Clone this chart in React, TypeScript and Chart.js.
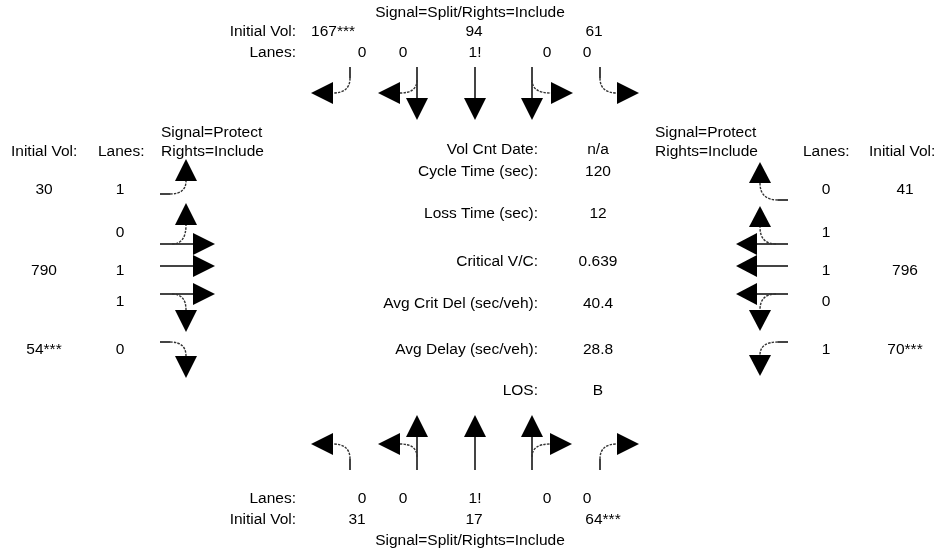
import React, { useEffect, useRef } from "react";
import { Chart, registerables } from "chart.js";

Chart.register(...registerables);

// ---- data ----
const SB_VOL = ["167***", "94", "61"];
const SB_LANES = ["0", "0", "1!", "0", "0"];
const NB_VOL = ["31", "17", "64***"];
const NB_LANES = ["0", "0", "1!", "0", "0"];
const EB_VOL = ["30", "790", "54***"];
const EB_LANES = ["1", "0", "1", "1", "0"];
const WB_VOL = ["41", "796", "70***"];
const WB_LANES = ["0", "1", "1", "0", "1"];
const NS_SIGNAL = "Signal=Split/Rights=Include";
const EW_SIGNAL = ["Signal=Protect", "Rights=Include"];
const SUMMARY_LABELS = [
  "Vol Cnt Date:",
  "Cycle Time (sec):",
  "Loss Time (sec):",
  "Critical V/C:",
  "Avg Crit Del (sec/veh):",
  "Avg Delay (sec/veh):",
  "LOS:",
];
const SUMMARY_VALUES = ["n/a", "120", "12", "0.639", "40.4", "28.8", "B"];
const MOVES = ["turnA", "turnA+thru", "thru", "thru+turnB", "turnB"];

const FONT = '15.5px "Liberation Sans", Arial, Helvetica, sans-serif';

type Frame = {
  P: (s: number, a: number) => [number, number];
  slots: number[];
  tb: number;
  L: number;
  hw: number;
  tc: number;
  csEx: number;
  csSh: number;
  boEx: number[];
  boSh: number[];
};

const FRAMES: Frame[] = [
  // southbound (top)
  {
    P: (s, a) => [a, 67 + s],
    slots: [350, 417, 475, 532, 600],
    tb: 31, L: 22, hw: 11, tc: 26, csEx: 11, csSh: 13,
    boEx: [17, 17], boSh: [17, 19],
  },
  // northbound (bottom)
  {
    P: (s, a) => [a, 470 - s],
    slots: [350, 417, 475, 532, 600],
    tb: 33, L: 22, hw: 11, tc: 26, csEx: 11, csSh: 13,
    boEx: [17, 17], boSh: [17, 18],
  },
  // eastbound (left)
  {
    P: (s, a) => [160 + s, a],
    slots: [194, 244, 266, 294, 342],
    tb: 33, L: 22, hw: 11, tc: 26, csEx: 10, csSh: 12,
    boEx: [13, 14], boSh: [19, 16],
  },
  // westbound (right)
  {
    P: (s, a) => [788 - s, a],
    slots: [200, 244, 266, 294, 342],
    tb: 31, L: 21, hw: 11, tc: 28, csEx: 10, csSh: 12,
    boEx: [17, 13], boSh: [17, 16],
  },
];

const diagramPlugin = {
  id: "diagram",
  afterDraw(chart: any) {
    const ctx: CanvasRenderingContext2D = chart.ctx;
    const xs = chart.scales.x;
    const ys = chart.scales.y;
    const X = (v: number) => xs.getPixelForValue(v);
    const Y = (v: number) => ys.getPixelForValue(v);

    ctx.save();
    ctx.font = FONT;
    ctx.fillStyle = "#000";
    ctx.textBaseline = "middle";
    const txt = (s: string, x: number, y: number, align: CanvasTextAlign = "center") => {
      ctx.textAlign = align;
      ctx.fillText(s, X(x), Y(y));
    };

    // north / south headers
    txt(NS_SIGNAL, 470, 13);
    txt("Initial Vol:", 296, 32, "right");
    txt("Lanes:", 296, 53, "right");
    const volCols = [333, 474, 594];
    SB_VOL.forEach((v, i) => txt(v, volCols[i], 32));
    const laneCols = [362, 403, 475, 547, 587];
    SB_LANES.forEach((v, i) => txt(v, laneCols[i], 53));

    txt("Lanes:", 296, 499, "right");
    txt("Initial Vol:", 296, 520, "right");
    NB_LANES.forEach((v, i) => txt(v, laneCols[i], 499));
    const nbVolCols = [357, 474, 603];
    NB_VOL.forEach((v, i) => txt(v, nbVolCols[i], 520));
    txt(NS_SIGNAL, 470, 541);

    // west / east headers
    txt("Initial Vol:", 11, 152, "left");
    txt("Lanes:", 98, 152, "left");
    txt(EW_SIGNAL[0], 161, 133, "left");
    txt(EW_SIGNAL[1], 161, 152, "left");
    txt(EW_SIGNAL[0], 655, 133, "left");
    txt(EW_SIGNAL[1], 655, 152, "left");
    txt("Lanes:", 803, 152, "left");
    txt("Initial Vol:", 869, 152, "left");

    const rows = [190, 233, 271, 302, 350];
    EB_LANES.forEach((v, i) => txt(v, 120, rows[i]));
    WB_LANES.forEach((v, i) => txt(v, 826, rows[i]));
    const volRows = [rows[0], rows[2], rows[4]];
    EB_VOL.forEach((v, i) => txt(v, 44, volRows[i]));
    WB_VOL.forEach((v, i) => txt(v, 905, volRows[i]));

    // summary
    const sumRows = [150, 172, 214, 262, 304, 350, 391];
    SUMMARY_LABELS.forEach((v, i) => txt(v, 538, sumRows[i], "right"));
    SUMMARY_VALUES.forEach((v, i) => txt(v, 598, sumRows[i]));

    // arrows
    const line = (p: [number, number], q: [number, number]) => {
      ctx.save();
      ctx.strokeStyle = "#444";
      ctx.lineWidth = 2;
      ctx.beginPath();
      ctx.moveTo(X(p[0]), Y(p[1]));
      ctx.lineTo(X(q[0]), Y(q[1]));
      ctx.stroke();
      ctx.restore();
    };
    const curve = (p: [number, number], c: [number, number], q: [number, number]) => {
      ctx.save();
      ctx.strokeStyle = "#333";
      ctx.lineWidth = 1.4;
      ctx.setLineDash([2.5, 1.2]);
      ctx.beginPath();
      ctx.moveTo(X(p[0]), Y(p[1]));
      ctx.quadraticCurveTo(X(c[0]), Y(c[1]), X(q[0]), Y(q[1]));
      ctx.stroke();
      ctx.restore();
    };
    const head = (base: [number, number], tip: [number, number], hw: number) => {
      const bx = X(base[0]), by = Y(base[1]), tx = X(tip[0]), ty = Y(tip[1]);
      const dx = tx - bx, dy = ty - by;
      const len = Math.hypot(dx, dy) || 1;
      const nx = -dy / len, ny = dx / len;
      ctx.save();
      ctx.fillStyle = "#000";
      ctx.beginPath();
      ctx.moveTo(tx, ty);
      ctx.lineTo(bx + nx * hw, by + ny * hw);
      ctx.lineTo(bx - nx * hw, by - ny * hw);
      ctx.closePath();
      ctx.fill();
      ctx.restore();
    };

    FRAMES.forEach((f) => {
      const { P } = f;
      MOVES.forEach((m, i) => {
        const a0 = f.slots[i];
        const sgn = m.includes("turnA") ? -1 : 1;
        const side = sgn < 0 ? 0 : 1;
        if (m.includes("thru")) {
          line(P(0, a0), P(f.tb, a0));
          head(P(f.tb, a0), P(f.tb + f.L, a0), f.hw);
          if (m !== "thru") {
            const bo = f.boSh[side];
            curve(P(f.csSh, a0), P(f.tc, a0), P(f.tc, a0 + sgn * bo));
            head(P(f.tc, a0 + sgn * bo), P(f.tc, a0 + sgn * (bo + f.L)), f.hw);
          }
        } else {
          const bo = f.boEx[side];
          line(P(0, a0), P(f.csEx, a0));
          curve(P(f.csEx, a0), P(f.tc, a0), P(f.tc, a0 + sgn * bo));
          head(P(f.tc, a0 + sgn * bo), P(f.tc, a0 + sgn * (bo + f.L)), f.hw);
        }
      });
    });

    ctx.restore();
  },
};

export default function App() {
  const ref = useRef<HTMLCanvasElement | null>(null);
  useEffect(() => {
    if (!ref.current) return;
    const chart = new Chart(ref.current, {
      type: "scatter",
      data: { datasets: [{ data: [], pointRadius: 0 }] },
      options: {
        animation: false,
        responsive: true,
        maintainAspectRatio: false,
        layout: { padding: 0 },
        plugins: { legend: { display: false }, tooltip: { enabled: false } },
        scales: {
          x: { type: "linear", min: 0, max: 938, display: false },
          y: { type: "linear", min: 0, max: 554, reverse: true, display: false },
        },
      },
      plugins: [diagramPlugin],
    });
    return () => chart.destroy();
  }, []);
  return (
    <div style={{ position: "absolute", left: 0, top: 0, width: 938, height: 554, background: "#fff" }}>
      <canvas ref={ref} />
    </div>
  );
}
